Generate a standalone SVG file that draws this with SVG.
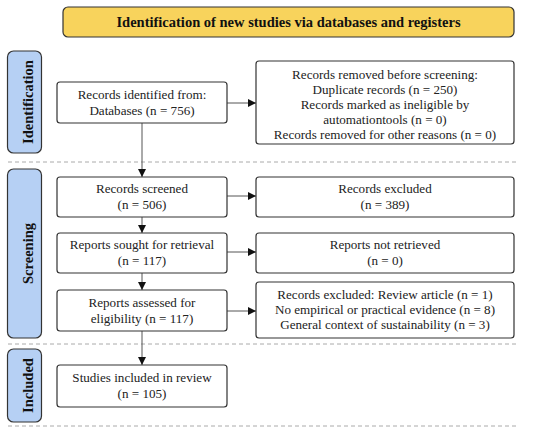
<svg xmlns="http://www.w3.org/2000/svg" width="550" height="434" viewBox="0 0 550 434">
<defs>
<style>
.box{fill:#fff;stroke:#333;stroke-width:1.2}
.side{fill:#b6d0f4;stroke:#333;stroke-width:1.2}
.banner{fill:#f8d35c;stroke:#333;stroke-width:1.2}
.t{font-family:"Liberation Serif","DejaVu Serif",serif;font-size:13.1px;fill:#222;text-anchor:middle}
.b{font-family:"Liberation Serif","DejaVu Serif",serif;font-size:14.5px;font-weight:bold;fill:#111;text-anchor:middle}
.dash{stroke:#aaa;stroke-width:1;stroke-dasharray:4 3;fill:none}
.c{stroke:#555;stroke-width:1;fill:none}
</style>
<marker id="ah" markerWidth="9" markerHeight="9" refX="8" refY="4.5" orient="auto" markerUnits="userSpaceOnUse">
<path d="M0,0.5 L8,4.5 L0,8.5 Z" fill="#111"/>
</marker>
</defs>
<rect width="550" height="434" fill="#fff"/>
<g id="banner">
<rect class="banner" x="63" y="7" width="451" height="30" rx="5"/>
<text class="b" x="288.5" y="27">Identification of new studies via databases and registers</text>
</g>
<g id="side-identification">
<rect class="side" x="7.5" y="51" width="34" height="102" rx="6"/>
<text class="b" transform="translate(32.5,102) rotate(-90)">Identification</text>
</g>
<g id="side-screening">
<rect class="side" x="7.5" y="169" width="34" height="169" rx="6"/>
<text class="b" transform="translate(32.5,253.5) rotate(-90)">Screening</text>
</g>
<g id="side-included">
<rect class="side" x="7.5" y="349" width="34" height="73" rx="6"/>
<text class="b" transform="translate(32.5,385.5) rotate(-90)">Included</text>
</g>
<g id="separators">
<line class="dash" x1="8" y1="162" x2="516" y2="162"/>
<line class="dash" x1="8" y1="344" x2="516" y2="344"/>
<line class="dash" x1="8" y1="426" x2="516" y2="426"/>
</g>
<g id="connectors">
<line class="c" x1="142" y1="123" x2="142" y2="177" marker-end="url(#ah)"/>
<line class="c" x1="142" y1="217" x2="142" y2="233" marker-end="url(#ah)"/>
<line class="c" x1="142" y1="273" x2="142" y2="290" marker-end="url(#ah)"/>
<line class="c" x1="142" y1="331" x2="142" y2="365" marker-end="url(#ah)"/>
<line class="c" x1="227" y1="103" x2="256" y2="103" marker-end="url(#ah)"/>
<line class="c" x1="227" y1="196" x2="256" y2="196" marker-end="url(#ah)"/>
<line class="c" x1="227" y1="252" x2="256" y2="252" marker-end="url(#ah)"/>
<line class="c" x1="227" y1="311" x2="256" y2="311" marker-end="url(#ah)"/>
</g>
<g id="records-identified">
<rect class="box" x="57" y="82" width="170" height="41" rx="3"/>
<text class="t" x="142" y="99">Records identified from:</text>
<text class="t" x="142" y="114.5">Databases (n = 756)</text>
</g>
<g id="records-removed">
<rect class="box" x="256" y="61" width="258" height="83" rx="3"/>
<text class="t" x="385" y="79">Records removed before screening:</text>
<text class="t" x="385" y="94">Duplicate records (n = 250)</text>
<text class="t" x="385" y="109">Records marked as ineligible by</text>
<text class="t" x="385" y="124">automationtools (n = 0)</text>
<text class="t" x="385" y="139">Records removed for other reasons (n = 0)</text>
</g>
<g id="records-screened">
<rect class="box" x="57" y="177" width="170" height="40" rx="3"/>
<text class="t" x="142" y="193">Records screened</text>
<text class="t" x="142" y="208.5">(n = 506)</text>
</g>
<g id="records-excluded">
<rect class="box" x="256" y="177" width="258" height="40" rx="3"/>
<text class="t" x="385" y="193">Records excluded</text>
<text class="t" x="385" y="208.5">(n = 389)</text>
</g>
<g id="reports-sought">
<rect class="box" x="57" y="233" width="170" height="40" rx="3"/>
<text class="t" x="142" y="249">Reports sought for retrieval</text>
<text class="t" x="142" y="264.5">(n = 117)</text>
</g>
<g id="reports-not-retrieved">
<rect class="box" x="256" y="233" width="258" height="40" rx="3"/>
<text class="t" x="385" y="249">Reports not retrieved</text>
<text class="t" x="385" y="264.5">(n = 0)</text>
</g>
<g id="reports-assessed">
<rect class="box" x="57" y="290" width="170" height="41" rx="3"/>
<text class="t" x="142" y="307">Reports assessed for</text>
<text class="t" x="142" y="322.5">eligibility (n = 117)</text>
</g>
<g id="records-excluded-2">
<rect class="box" x="256" y="282" width="258" height="56" rx="3"/>
<text class="t" x="385" y="299">Records excluded: Review article (n = 1)</text>
<text class="t" x="385" y="314">No empirical or practical evidence  (n = 8)</text>
<text class="t" x="385" y="329">General context of sustainability (n = 3)</text>
</g>
<g id="studies-included">
<rect class="box" x="57" y="365" width="170" height="42" rx="3"/>
<text class="t" x="142" y="382">Studies included in review</text>
<text class="t" x="142" y="397.5">(n = 105)</text>
</g>
</svg>
